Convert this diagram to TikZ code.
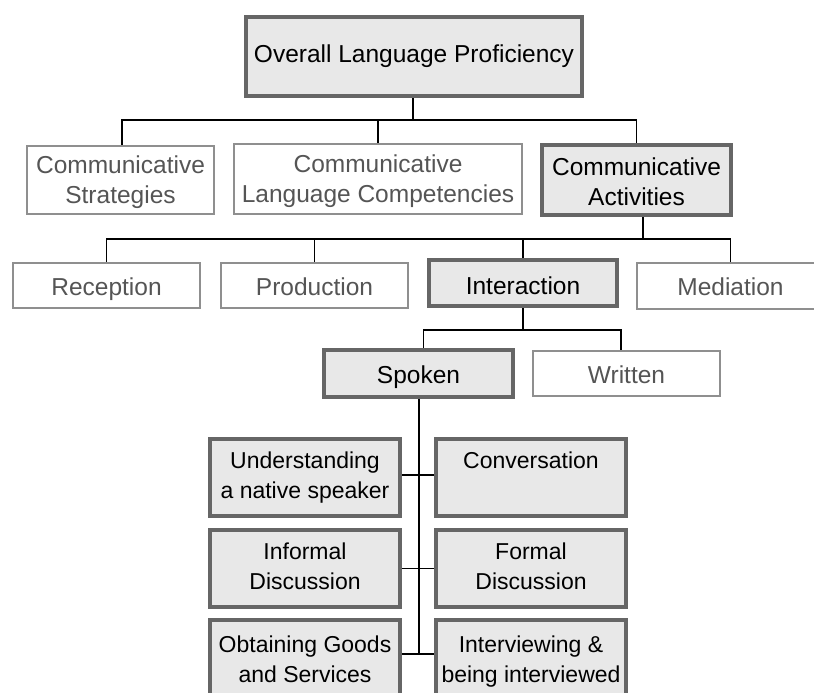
\documentclass[tikz,border=0pt]{standalone}
\usepackage{fontspec}
\setmainfont{Liberation Sans}
\definecolor{bordergray}{HTML}{666666}
\definecolor{fillgray}{HTML}{E8E8E8}
\definecolor{thingray}{HTML}{8F8F8F}
\definecolor{textgray}{HTML}{555555}
\begin{document}
\begin{tikzpicture}[x=1pt,y=-1pt,
  every node/.style={font=\fontsize{24.5}{30}\selectfont, align=center, inner sep=0pt,
    text height=24pt, text depth=5pt},
  main/.style={draw=bordergray, line width=4.5pt, fill=fillgray, text=black},
  minor/.style={draw=thingray, line width=1.8pt, fill=white, text=textgray},
  leaf/.style={main, minimum width=190pt, minimum height=77pt,
    font=\fontsize{23}{30}\selectfont, text height=46pt, text depth=5pt},
  link/.style={draw=black, line width=1.5pt}]
\path[use as bounding box] (0,0) rectangle (814,693);
\clip (0,0) rectangle (814,693);

% level 0
\node[main, minimum width=336pt, minimum height=79pt, text height=18pt] (top) at (414,56.5) {Overall Language Proficiency};

% level 1
\node[minor, minimum width=187.5pt, minimum height=68.5pt, text height=52pt] (strat) at (120.5,180) {Communicative\\Strategies};
\node[minor, minimum width=288.5pt, minimum height=70.5pt, text height=52pt] (clc) at (378,179) {Communicative\\Language Competencies};
\node[main, minimum width=189pt, minimum height=70pt, text height=55pt] (ca) at (636.5,180) {Communicative\\Activities};

% level 2
\node[minor, minimum width=187.5pt, minimum height=45.5pt] (rec) at (106.5,285.5) {Reception};
\node[minor, minimum width=187.5pt, minimum height=45.5pt] (prod) at (314.5,285.5) {Production};
\node[main, minimum width=188pt, minimum height=46pt, text height=27pt] (inter) at (523,283) {Interaction};
\node[minor, minimum width=187.5pt, minimum height=45.5pt] (med) at (730.5,286) {Mediation};

% level 3
\node[main, minimum width=189pt, minimum height=47pt] (spoken) at (418.5,373.5) {Spoken};
\node[minor, minimum width=187.5pt, minimum height=45.5pt] (written) at (626.5,373.5) {Written};

% level 4
\node[leaf] (und) at (305,477.5) {Understanding\\a native speaker};
\node[leaf] (conv) at (531,477.5) {Conversation\\\mbox{}};
\node[leaf, text height=47pt] (inf) at (305,568.5) {Informal\\Discussion};
\node[leaf, text height=47pt] (form) at (531,568.5) {Formal\\Discussion};
\node[leaf, text height=52pt] (obt) at (305,658.5) {Obtaining Goods\\and Services};
\node[leaf, text height=52pt] (intv) at (531,658.5) {Interviewing \&\\being interviewed};

% connectors level 0 -> 1
\coordinate (j1) at (413,120);
\draw[link] ([xshift=-1pt]top.south) -- (j1);
\draw[link] ([xshift=1.5pt]strat.north) |- (j1) -| (ca.north);
\draw[link] (clc.north) -- (clc.north |- j1);

% connectors level 1 -> 2
\coordinate (j2) at (643,239);
\draw[link] ([xshift=6.5pt]ca.south) -- (j2);
\draw[link] (rec.north) |- (j2) -| (med.north);
\draw[link] (prod.north) -- (prod.north |- j2);
\draw[link] (inter.north) -- (inter.north |- j2);

% connectors level 2 -> 3
\coordinate (j3) at (523,330);
\draw[link, line width=1.3pt] (inter.south) -- (j3);
\draw[link, line width=1.3pt] ([xshift=5pt]spoken.north) |- (j3) -| ([xshift=-5.5pt]written.north);

% connectors level 3 -> 4
\coordinate (j4) at (419,654);
\draw[link, line width=1.3pt] ([xshift=0.5pt]spoken.south) -- (j4);
\draw[link, line width=1.3pt] ([yshift=2.5pt]und.east) -- ([yshift=2.5pt]conv.west);
\draw[link, line width=1.3pt] (inf.east) -- (form.west);
\draw[link, line width=1.3pt] ([yshift=4.5pt]obt.east) -- ([yshift=4.5pt]intv.west);
\end{tikzpicture}
\end{document}
